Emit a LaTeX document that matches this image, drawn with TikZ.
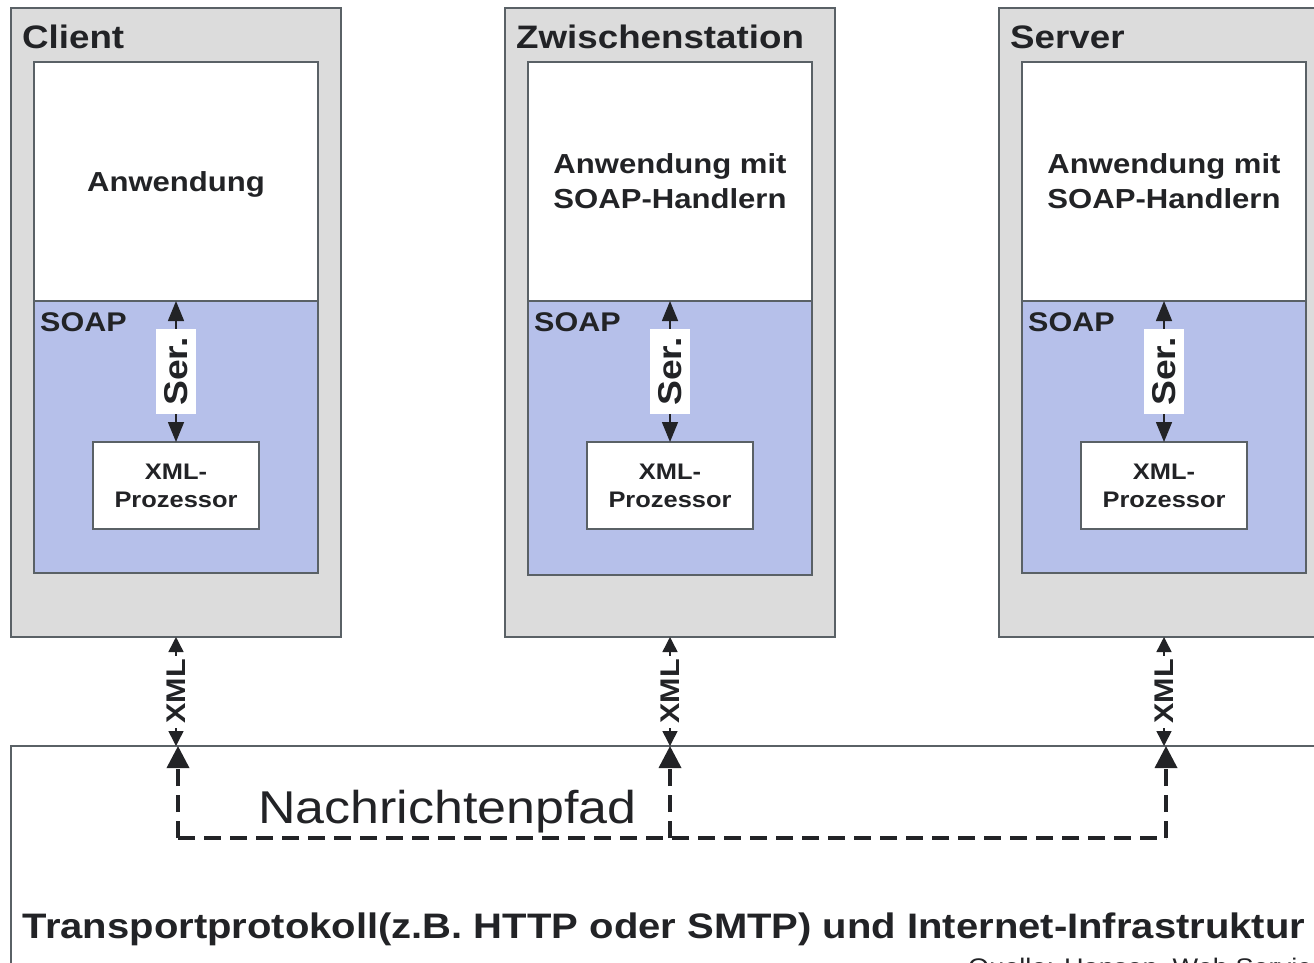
\documentclass[tikz,border=0pt]{standalone}
\usepackage{fontspec}
\setmainfont[FakeStretch=1.13]{Liberation Sans}
\usetikzlibrary{arrows.meta}

\definecolor{hostgray}{HTML}{DCDCDC}
\definecolor{soapblue}{HTML}{B6C0EA}
\definecolor{edge}{HTML}{5A6166}
\definecolor{ink}{HTML}{222326}

\tikzset{
  box/.style={inner sep=0pt, outer sep=0pt, anchor=north west, text=ink},
  host/.style={box, draw=edge, line width=1.4pt, fill=hostgray,
               minimum width=330pt, minimum height=629pt},
  appbox/.style={box, draw=edge, line width=1.2pt, fill=white, align=center,
                 minimum width=284pt, minimum height=239pt,
                 font=\fontsize{27.5}{35}\selectfont\bfseries},
  soapbox/.style={box, draw=edge, line width=1.2pt, fill=soapblue,
                  minimum width=284pt, minimum height=272pt},
  xmlbox/.style={box, draw=edge, line width=1.2pt, fill=white, align=center,
                 minimum width=166pt, minimum height=87pt,
                 font=\fontsize{22.5}{28}\selectfont\bfseries},
  hosttitle/.style={anchor=west, inner sep=0pt, text=ink,
                    font=\fontsize{32.5}{36}\selectfont\bfseries},
  soaptitle/.style={anchor=west, inner sep=0pt, text=ink,
                    font=\fontsize{27}{30}\selectfont\bfseries},
  serarrow/.style={draw=ink, line width=1.5pt,
                   {Triangle[length=20pt,width=16pt]}-{Triangle[length=20pt,width=16pt]}},
  serlabel/.style={fill=white, rotate=90, inner sep=0pt, text=ink,
                   minimum width=85pt, minimum height=40pt,
                   font=\fontsize{33}{36}\selectfont\bfseries},
  xmlarrow/.style={draw=ink, line width=1.5pt,
                   {Triangle[length=15pt,width=15pt]}-{Triangle[length=15pt,width=15pt]}},
  xmllabel/.style={fill=white, rotate=90, inner sep=0pt, text=ink,
                   minimum width=72pt, minimum height=24pt,
                   font=\fontsize{27}{30}\selectfont\bfseries},
  msgpath/.style={draw=ink, line width=3.6pt, dash pattern=on 17pt off 9pt},
  msgtip/.style={-{Triangle[length=22pt,width=22pt]}}
}

\begin{document}
\begin{tikzpicture}[x=1pt, y=-1pt]
\useasboundingbox (0,0) rectangle (1314,962);
\clip (0,0) rectangle (1314,962);
\fill[white] (0,0) rectangle (1314,962);

% ---------- Client ----------
\node[host] (host1) at (11,8) {};
\node[hosttitle] (title1) at (22,37) {Client};
\node[appbox] (app1) at (34,62) {\raisebox{-10pt}[0pt][0pt]{Anwendung}};
\node[soapbox] (soap1) at (34,301) {};
\node[soaptitle] (st1) at (40,322) {SOAP};
\node[xmlbox] (xp1) at (93,442) {XML-\\Prozessor};
\draw[serarrow] (soap1.north -| xp1.north) -- (xp1.north)
  node[midway, serlabel] (ser1) {Ser.};

% ---------- Zwischenstation ----------
\node[host] (host2) at (505,8) {};
\node[hosttitle] (title2) at (516,37) {Zwischenstation};
\node[appbox] (app2) at (528,62) {Anwendung mit\\SOAP-Handlern};
\node[soapbox, minimum height=274pt] (soap2) at (528,301) {};
\node[soaptitle] (st2) at (534,322) {SOAP};
\node[xmlbox] (xp2) at (587,442) {XML-\\Prozessor};
\draw[serarrow] (soap2.north -| xp2.north) -- (xp2.north)
  node[midway, serlabel] (ser2) {Ser.};

% ---------- Server ----------
\node[host] (host3) at (999,8) {};
\node[hosttitle] (title3) at (1010,37) {Server};
\node[appbox] (app3) at (1022,62) {Anwendung mit\\SOAP-Handlern};
\node[soapbox] (soap3) at (1022,301) {};
\node[soaptitle] (st3) at (1028,322) {SOAP};
\node[xmlbox] (xp3) at (1081,442) {XML-\\Prozessor};
\draw[serarrow] (soap3.north -| xp3.north) -- (xp3.north)
  node[midway, serlabel] (ser3) {Ser.};

% ---------- Transport layer ----------
\node[box, draw=edge, line width=1.4pt, fill=white,
      minimum width=1340pt, minimum height=260pt] (net) at (11,746) {};
\node[inner sep=0pt, text=ink, font=\fontsize{35.4}{40}\selectfont\bfseries]
  (nettext) at (664,929) {Transportprotokoll(z.B. HTTP oder SMTP) und Internet-Infrastruktur};
\node[anchor=base west, inner sep=0pt, text=ink, font=\fontsize{24}{28}\selectfont]
  (source) at (968,975) {Quelle: Hansen, Web Services};

% XML exchange between each host and the network
\draw[xmlarrow] (xp1.south |- host1.south) -- (xp1.south |- net.north)
  node[midway, xmllabel] (x1) {XML};
\draw[xmlarrow] (xp2.south |- host2.south) -- (xp2.south |- net.north)
  node[midway, xmllabel] (x2) {XML};
\draw[xmlarrow] (xp3.south |- host3.south) -- (xp3.south |- net.north)
  node[midway, xmllabel] (x3) {XML};

% ---------- Message path ----------
\coordinate (m1) at (178,838);
\coordinate (m2) at (670,838);
\coordinate (m3) at (1166,838);
\draw[msgpath] (m1) -- (m3);
\draw[msgpath, msgtip] (m1) -- (m1 |- net.north);
\draw[msgpath, msgtip] (m2) -- (m2 |- net.north);
\draw[msgpath, msgtip] (m3) -- (m3 |- net.north);
\node[anchor=west, inner sep=0pt, text=ink, font=\fontsize{46}{50}\selectfont]
  (pathname) at (258,812) {Nachrichtenpfad};
\end{tikzpicture}
\end{document}
